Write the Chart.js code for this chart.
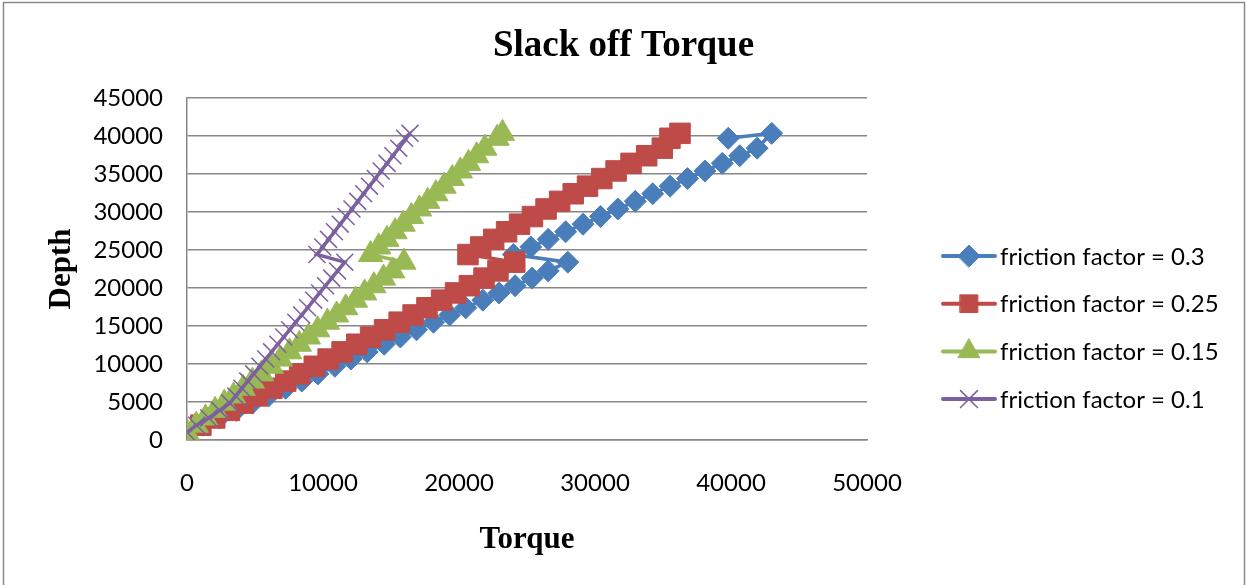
<!DOCTYPE html>
<html>
<head>
<meta charset="utf-8">
<script src="https://cdn.jsdelivr.net/npm/chart.js@4/dist/chart.umd.min.js"></script>
<style>
  html, body { margin: 0; padding: 0; background: #fff; }
  #chart { display: block; }
</style>
</head>
<body>
<canvas id="chart" width="1247" height="585"></canvas>
<script>
// depth stations (ft), shared by all series
const depth = [
  1000, 1950, 2900, 3900, 4850, 5800, 6800, 7750, 8700, 9700, 10650, 11600,
  12600, 13550, 14500, 15500, 16450, 17400, 18400, 19350, 20300, 21300, 22250, 23400,
  24400, 25400, 26400, 27400, 28400, 29400, 30400, 31400, 32400, 33400, 34400,
  35400, 36400, 37400, 38400, 40350, 39700,
];

// torque for each friction factor
const torque03 = [
  0, 1190, 2375, 3625, 4810, 6000, 7250, 8440, 9625, 10875, 12060, 13250,
  14500, 15690, 16875, 18125, 19310, 20500, 21750, 22940, 24125, 25375, 26560, 28000,
  24000, 25280, 26560, 27840, 29120, 30400, 31680, 32960, 34240, 35520, 36800,
  38080, 39360, 40640, 41920, 42990, 39800,
];
const torque025 = [
  0, 1020, 2040, 3120, 4140, 5165, 6240, 7260, 8285, 9360, 10380, 11405,
  12480, 13500, 14525, 15600, 16625, 17645, 18720, 19745, 20765, 21840, 22865, 24100,
  20660, 21600, 22550, 23500, 24450, 25400, 26400, 27400, 28400, 29450, 30500,
  31550, 32650, 33800, 34950, 36250, 35510,
];
const torque015 = [
  0, 675, 1355, 2065, 2740, 3420, 4130, 4805, 5480, 6195, 6870, 7550,
  8260, 8935, 9610, 10325, 11000, 11675, 12390, 13065, 13740, 14450, 15130, 15950,
  13500, 14100, 14700, 15300, 15900, 16500, 17100, 17700, 18300, 18900, 19500,
  20100, 20700, 21300, 21900, 23200, 22800,
];
const torque01 = [
  0, 700, 1600, 2400, 3150, 3580, 4040, 4470, 4900, 5360, 5790, 6220,
  6680, 7110, 7550, 8000, 8430, 8870, 9320, 9750, 10190, 10640, 11070, 11600,
  9550, 9980, 10410, 10840, 11270, 11700, 12130, 12560, 12990, 13420, 13850,
  14280, 14710, 15140, 15570, 16400, 16000,
];

const seriesNames = [
  "friction factor = 0.3",
  "friction factor = 0.25",
  "friction factor = 0.15",
  "friction factor = 0.1",
];
const xTicks = [0, 10000, 20000, 30000, 40000, 50000];
const yTicks = [0, 5000, 10000, 15000, 20000, 25000, 30000, 35000, 40000, 45000];

function pairs(xs) {
  return xs.map((x, i) => ({ x: x, y: depth[i] }));
}

const tickFont = { family: "Lato", size: 24 };
const axisTitleFont = { family: "Liberation Serif", size: 31, weight: "bold" };
const gridColor = "#878787";

function makeSet(i, values, color, style, radius, order) {
  return {
    label: seriesNames[i],
    data: pairs(values),
    showLine: true,
    borderColor: color,
    backgroundColor: color,
    borderWidth: 3.5,
    pointStyle: style,
    pointRadius: radius,
    pointBackgroundColor: color,
    pointBorderColor: color,
    pointBorderWidth: style === "crossRot" ? 1.5 : 1,
    order: order,
  };
}

// legend drawn as line + marker, like the spreadsheet legend
const lineLegend = {
  id: "lineLegend",
  afterDraw(chart) {
    const ctx = chart.ctx;
    ctx.save();
    chart.data.datasets.forEach((ds, i) => {
      const y = 256 + i * 47.7;
      ctx.strokeStyle = ds.borderColor;
      ctx.lineWidth = 4;
      ctx.lineCap = "round";
      ctx.beginPath();
      ctx.moveTo(943, y);
      ctx.lineTo(995, y);
      ctx.stroke();
      ctx.fillStyle = ds.pointBackgroundColor;
      ctx.strokeStyle = ds.pointBorderColor;
      ctx.lineWidth = ds.pointBorderWidth;
      Chart.helpers.drawPoint(ctx, {
        pointStyle: ds.pointStyle,
        radius: Math.min(ds.pointRadius, 12.5),
        borderWidth: ds.pointBorderWidth,
        rotation: 0,
      }, 969, y);
      ctx.fillStyle = "#000";
      ctx.font = "24px Lato";
      ctx.textAlign = "left";
      ctx.textBaseline = "middle";
      ctx.fillText(ds.label, 1000, y + 1);
    });
    ctx.restore();
  },
};

const frame = {
  id: "frame",
  beforeDraw(chart) {
    const ctx = chart.ctx;
    ctx.save();
    ctx.strokeStyle = "#8a8a8a";
    ctx.lineWidth = 1.5;
    ctx.strokeRect(3.5, 2.5, 1241, 640);
    ctx.restore();
  },
};

new Chart(document.getElementById("chart"), {
  type: "scatter",
  data: {
    datasets: [
      makeSet(0, torque03, "#4A7EBB", "rectRot", 11, 4),
      makeSet(1, torque025, "#BE4B48", "rect", 14.5, 3),
      makeSet(2, torque015, "#98B954", "triangle", 14, 2),
      makeSet(3, torque01, "#7D60A0", "crossRot", 12, 1),
    ],
  },
  options: {
    responsive: false,
    animation: false,
    layout: { padding: 0 },
    elements: { line: { tension: 0 } },
    plugins: {
      legend: { display: false },
      tooltip: { enabled: false },
      title: {
        display: true,
        text: "Slack off Torque",
        color: "#000",
        font: { family: "Liberation Serif", size: 37, weight: "bold" },
        padding: { top: 24, bottom: 29.6 },
      },
    },
    scales: {
      x: {
        type: "linear",
        min: 0,
        max: 50000,
        afterBuildTicks: (axis) => { axis.ticks = xTicks.map((v) => ({ value: v })); },
        afterFit: (axis) => { axis.height = 145; },
        ticks: { color: "#000", font: tickFont, padding: 29, maxRotation: 0, callback: (v) => String(v) },
        grid: { display: false, drawTicks: false },
        border: { display: true, color: gridColor, width: 1.5 },
        title: { display: true, text: "Torque", color: "#000", font: axisTitleFont, padding: { top: 0, bottom: 26 } },
      },
      y: {
        type: "linear",
        min: 0,
        max: 45000,
        afterBuildTicks: (axis) => { axis.ticks = yTicks.map((v) => ({ value: v })); },
        afterFit: (axis) => { axis.width = 187; },
        ticks: { color: "#000", font: tickFont, padding: 24, callback: (v) => String(v) },
        grid: { color: gridColor, lineWidth: 1.5, drawTicks: false },
        border: { display: true, color: gridColor, width: 1.5 },
        title: { display: true, text: "Depth", color: "#000", font: axisTitleFont, padding: { top: 43, bottom: 0 } },
      },
      // empty right-hand box that holds the space used by the legend
      legendSpace: {
        type: "linear",
        position: "right",
        afterFit: (axis) => { axis.width = 380; },
        ticks: { display: false },
        grid: { display: false, drawTicks: false },
        border: { display: false },
      },
    },
  },
  plugins: [frame, lineLegend],
});
</script>
</body>
</html>
